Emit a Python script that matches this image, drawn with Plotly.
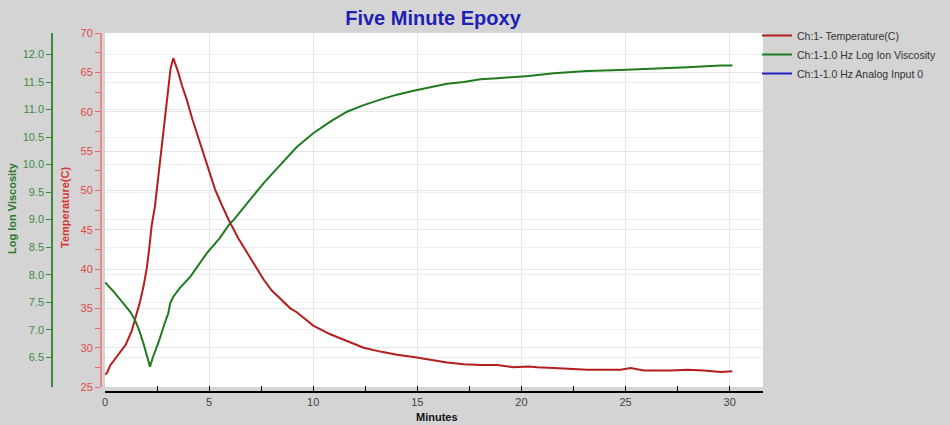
import plotly.graph_objects as go

# ---- data ----
temp_minutes = [0.0, 0.1, 0.24, 0.5, 0.8, 1.0, 1.28, 1.5, 1.68, 1.85, 2.0, 2.12, 2.24, 2.4,
                2.64, 2.85, 3.04, 3.15, 3.28, 3.4, 3.53, 3.7, 3.93, 4.2, 4.41, 4.6, 4.81,
                5.05, 5.29, 5.6, 5.93, 6.4, 6.81, 7.2, 7.61, 8.0, 8.41, 8.9, 9.21, 10.0,
                10.82, 11.62, 12.42, 13.22, 14.02, 14.82, 15.63, 16.43, 17.23, 18.03,
                18.83, 19.63, 20.35, 20.75, 21.55, 22.36, 23.16, 24.76, 25.24, 25.88,
                27.16, 27.97, 28.77, 29.57, 30.13]
temperature_c = [26.6, 26.8, 27.7, 28.6, 29.6, 30.4, 32.1, 34.0, 35.8, 37.8, 40.0, 42.5, 45.5, 48.0,
                 53.5, 58.5, 63.2, 65.5, 66.8, 66.0, 64.9, 63.3, 61.5, 59.0, 57.3, 55.6, 53.9,
                 52.0, 50.1, 48.2, 46.3, 43.9, 42.1, 40.4, 38.7, 37.3, 36.2, 35.0, 34.5, 32.8,
                 31.7, 30.9, 30.0, 29.5, 29.1, 28.8, 28.4, 28.1, 27.9, 27.8,
                 27.8, 27.5, 27.6, 27.5, 27.4, 27.3, 27.2, 27.2, 27.4, 27.1,
                 27.1, 27.2, 27.1, 26.9, 27.0]

visc_minutes = [0.0, 0.4, 0.88, 1.2, 1.44, 1.65, 1.84, 2.0, 2.16, 2.3, 2.56, 2.85, 3.04, 3.13,
                3.28, 3.6, 4.09, 4.89, 5.5, 6.0, 6.17, 6.9, 7.61, 8.41, 8.89, 9.21, 10.0,
                10.82, 11.62, 12.42, 13.22, 14.02, 14.82, 15.63, 16.43, 17.23, 18.03,
                18.83, 19.63, 20.35, 21.55, 23.16, 24.76, 26.36, 27.97, 29.57, 30.13]
log_ion_viscosity = [7.86, 7.7, 7.48, 7.33, 7.18, 6.98, 6.76, 6.55, 6.33, 6.5, 6.76, 7.1, 7.30, 7.48,
                     7.60, 7.76, 7.96, 8.39, 8.66, 8.93, 8.99, 9.33, 9.66, 9.99, 10.20, 10.32, 10.57,
                     10.78, 10.96, 11.08, 11.18, 11.27, 11.34, 11.41, 11.47, 11.50, 11.55,
                     11.57, 11.59, 11.61, 11.66, 11.70, 11.72, 11.74, 11.77, 11.80, 11.80]

# the analog input channel is listed in the legend but has no visible data
analog_minutes = [None]
analog_input = [None]

x_ticks = [0, 5, 10, 15, 20, 25, 30]
temp_ticks = [25, 30, 35, 40, 45, 50, 55, 60, 65, 70]
visc_ticks = [6.5, 7.0, 7.5, 8.0, 8.5, 9.0, 9.5, 10.0, 10.5, 11.0, 11.5, 12.0]
visc_tick_labels = ["6.5", "7.0", "7.5", "8.0", "8.5", "9.0", "9.5", "10.0",
                    "10.5", "11.0", "11.5", "12.0"]

series_names = ["Ch:1- Temperature(C)", "Ch:1-1.0 Hz Log Ion Viscosity",
                "Ch:1-1.0 Hz Analog Input 0"]

W, H = 950, 425
FONT = "Liberation Sans, Arial, sans-serif"
RED = "#b41e1e"
GREEN = "#1f7a1f"
BLUE = "#2020c0"

fig = go.Figure()
fig.add_trace(go.Scatter(x=temp_minutes, y=temperature_c, mode="lines",
                         name=series_names[0], line=dict(color=RED, width=2), yaxis="y"))
fig.add_trace(go.Scatter(x=visc_minutes, y=log_ion_viscosity, mode="lines",
                         name=series_names[1], line=dict(color=GREEN, width=2), yaxis="y2"))
fig.add_trace(go.Scatter(x=analog_minutes, y=analog_input, mode="lines",
                         name=series_names[2], line=dict(color=BLUE, width=2), yaxis="y"))

x_dom = [105 / W, 763 / W]
y_dom = [(H - 387) / H, (H - 33) / H]

fig.update_layout(
    width=W, height=H,
    margin=dict(l=0, r=0, t=0, b=0, autoexpand=False),
    paper_bgcolor="#d4d4d4",
    plot_bgcolor="#ffffff",
    font=dict(family=FONT, size=11, color="#333333"),
    title=dict(text="<b>Five Minute Epoxy</b>", x=433 / W, xanchor="center",
               y=1 - 18 / H, yanchor="middle",
               font=dict(family=FONT, size=20, color="#1f1fb4")),
    showlegend=True,
    legend=dict(x=757 / W, y=1 - 21 / H, xanchor="left", yanchor="top",
                bgcolor="rgba(0,0,0,0)", font=dict(size=10.5, color="#333333"),
                itemwidth=30, tracegroupgap=0),
    xaxis=dict(domain=x_dom, range=[0, 31.6], anchor="free", position=(H - 392) / H,
               tickmode="array", tickvals=x_ticks,
               ticks="inside", ticklen=5, tickcolor="#000000",
               minor=dict(dtick=2.5, ticks="inside", ticklen=5, tickcolor="#000000", showgrid=False),
               showline=True, linecolor="#000000", linewidth=1.5,
               showgrid=True, gridcolor="#e6e6e6", gridwidth=1, zeroline=False,
               tickfont=dict(size=11, color="#444444"), automargin=False),
    yaxis=dict(domain=y_dom, range=[25, 70], anchor="free", position=101 / W, side="left",
               tickmode="array", tickvals=temp_ticks,
               ticks="outside", ticklen=5, tickcolor="#e06a6a",
               minor=dict(dtick=2.5, ticks="outside", ticklen=5, tickcolor="#e06a6a", showgrid=False),
               showline=True, linecolor="#e88a8a", linewidth=2,
               showgrid=True, gridcolor="#e6e6e6", gridwidth=1, zeroline=False,
               tickfont=dict(size=11, color="#e04848"), automargin=False),
    yaxis2=dict(domain=y_dom, range=[5.96, 12.39], overlaying="y", anchor="free",
                position=52 / W, side="left",
                tickmode="array", tickvals=visc_ticks, ticktext=visc_tick_labels,
                ticks="outside", ticklen=5, tickcolor="#3d8a3d",
                showline=True, linecolor="#3d8a3d", linewidth=1.5,
                showgrid=True, gridcolor="#eeeeee", gridwidth=1, zeroline=False,
                tickfont=dict(size=11, color="#3d8a3d"), automargin=False),
    annotations=[
        dict(text="<b>Minutes</b>", x=437 / W, y=1 - 417 / H, xref="paper", yref="paper",
             showarrow=False, xanchor="center", yanchor="middle",
             font=dict(family=FONT, size=11, color="#111111")),
        dict(text="<b>Log Ion Viscosity</b>", x=12 / W, y=1 - 208 / H, xref="paper", yref="paper",
             showarrow=False, textangle=-90, xanchor="center", yanchor="middle",
             font=dict(family=FONT, size=11, color="#2a7a2a")),
        dict(text="<b>Temperature(C)</b>", x=65 / W, y=1 - 208 / H, xref="paper", yref="paper",
             showarrow=False, textangle=-90, xanchor="center", yanchor="middle",
             font=dict(family=FONT, size=11, color="#d83434")),
    ],
)

fig.write_html(
    "out.html",
    config={"displayModeBar": False},
    post_script="document.body.style.margin='0px';document.body.style.overflow='hidden';",
)
